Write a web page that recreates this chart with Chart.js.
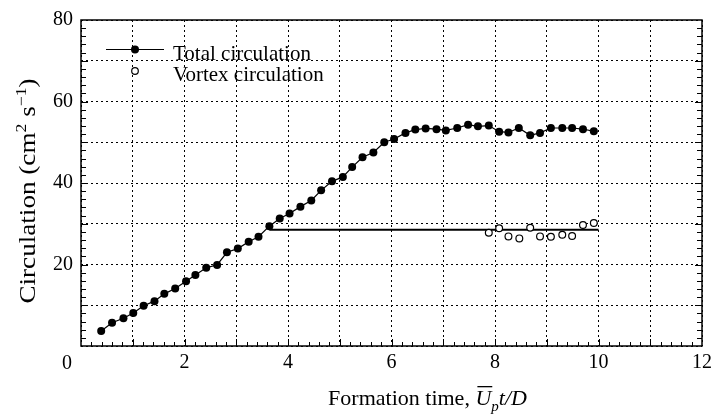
<!DOCTYPE html>
<html lang="en">
<head>
    <meta charset="UTF-8">
    <title>Circulation vs formation time</title>
    <script src="https://cdn.jsdelivr.net/npm/chart.js"></script>
    <style>
        body {
            margin: 0;
            background: #fff;
        }
        .container {
            position: relative;
            width: 717px;
            height: 420px;
        }
    </style>
</head>
<body>

<div class="container">
    <canvas id="circChart"></canvas>
</div>

<script>
    // Total circulation of the jet (cm^2/s) against formation time
    const totalTime = [0.39, 0.60, 0.82, 1.01, 1.21, 1.42, 1.61, 1.82, 2.03, 2.21,
        2.42, 2.63, 2.82, 3.03, 3.24, 3.43, 3.64, 3.84, 4.03, 4.24,
        4.45, 4.64, 4.85, 5.06, 5.24, 5.44, 5.65, 5.86, 6.05, 6.27,
        6.46, 6.66, 6.87, 7.05, 7.27, 7.48, 7.67, 7.88, 8.08, 8.26,
        8.46, 8.68, 8.87, 9.08, 9.30, 9.49, 9.70, 9.91];
    const totalCirc = [3.7, 5.7, 6.8, 8.1, 9.9, 11.0, 12.8, 14.1, 15.9, 17.4,
        19.2, 19.9, 23.0, 23.9, 25.6, 26.8, 29.4, 31.3, 32.5, 34.2,
        35.7, 38.2, 40.4, 41.5, 43.9, 46.3, 47.5, 50.0, 50.8, 52.3,
        53.1, 53.4, 53.2, 52.9, 53.5, 54.3, 53.9, 54.1, 52.6, 52.4,
        53.5, 51.7, 52.3, 53.5, 53.5, 53.5, 53.2, 52.7];

    // Circulation of the pinched-off vortex ring
    const vortexTime = [7.88, 8.08, 8.26, 8.47, 8.68, 8.87, 9.08, 9.30, 9.49, 9.70, 9.91];
    const vortexCirc = [27.8, 28.9, 26.9, 26.4, 29.0, 26.9, 26.8, 27.3, 27.0, 29.7, 30.2];

    // Level of the vortex circulation carried back to the pinch-off time
    const levelTime = [3.64, 10.0];
    const levelCirc = [28.5, 28.5];

    const xLabelValues = [2, 4, 6, 8, 10, 12];
    const yLabelValues = [20, 40, 60, 80];

    const SERIF = "'Liberation Serif', 'Times New Roman', serif";

    function toPoints(xs, ys) {
        return xs.map((x, i) => ({ x: x, y: ys[i] }));
    }

    // frame, inward ticks, axis titles and legend
    const decorations = {
        id: 'decorations',
        afterDraw(chart) {
            const ctx = chart.ctx;
            const a = chart.chartArea;
            const xs = chart.scales.x;
            const ys = chart.scales.y;
            ctx.save();

            ctx.strokeStyle = '#000';
            ctx.lineWidth = 1.5;
            ctx.strokeRect(a.left, a.top, a.right - a.left, a.bottom - a.top);

            ctx.lineWidth = 1;
            ctx.beginPath();
            for (let i = 1; i < 60; i++) {
                const px = Math.round(xs.getPixelForValue(i * 0.2)) + 0.5;
                const len = i % 5 === 0 ? 7 : 4;
                ctx.moveTo(px, a.bottom);
                ctx.lineTo(px, a.bottom - len);
            }
            for (let j = 1; j < 40; j++) {
                const py = Math.round(ys.getPixelForValue(j * 2)) + 0.5;
                const len = j % 5 === 0 ? 7 : 5;
                ctx.moveTo(a.left, py);
                ctx.lineTo(a.left + len, py);
                ctx.moveTo(a.right, py);
                ctx.lineTo(a.right - len, py);
            }
            ctx.stroke();

            // the zero of the x axis sits left of the corner
            ctx.fillStyle = '#000';
            ctx.font = '20px ' + SERIF;
            ctx.textAlign = 'center';
            ctx.textBaseline = 'alphabetic';
            ctx.fillText('0', xs.getPixelForValue(0) - 14, a.bottom + 23);

            // x title: Formation time, U̅p t/D
            const xParts = [
                { t: 'Formation time, ', f: '22px ' + SERIF, dy: 0 },
                { t: 'U', f: 'italic 22px ' + SERIF, dy: 0, bar: true },
                { t: 'p', f: 'italic 15px ' + SERIF, dy: 6 },
                { t: 't/D', f: 'italic 22px ' + SERIF, dy: 0 }
            ];
            let total = 0;
            xParts.forEach(p => { ctx.font = p.f; p.w = ctx.measureText(p.t).width; total += p.w; });
            let cx = (a.left + a.right) / 2 + 36 - total / 2;
            const base = 405;
            ctx.textAlign = 'left';
            xParts.forEach(p => {
                ctx.font = p.f;
                ctx.fillText(p.t, cx, base + p.dy);
                if (p.bar) {
                    ctx.fillRect(cx + 2, base - 19, p.w - 1, 1.3);
                }
                cx += p.w;
            });

            // y title: Circulation (cm² s⁻¹), glyphs drawn a little wide
            const yParts = [
                { t: 'Circulation (cm', f: '23px ' + SERIF, dy: 0 },
                { t: '2', f: '15px ' + SERIF, dy: -9 },
                { t: ' s', f: '23px ' + SERIF, dy: 0 },
                { t: '\u22121', f: '15px ' + SERIF, dy: -9 },
                { t: ')', f: '23px ' + SERIF, dy: 0 }
            ];
            total = 0;
            yParts.forEach(p => { ctx.font = p.f; p.w = ctx.measureText(p.t).width; total += p.w; });
            ctx.translate(35, (a.top + a.bottom) / 2 + 8);
            ctx.rotate(-Math.PI / 2);
            ctx.scale(1.18, 1);
            let tx = -total / 2;
            yParts.forEach(p => {
                ctx.font = p.f;
                ctx.fillText(p.t, tx, p.dy);
                tx += p.w;
            });
            ctx.setTransform(1, 0, 0, 1, 0, 0);

            // legend in the upper left of the plot
            const ds = chart.data.datasets;
            const lx = a.left + 25;
            ctx.font = '21px ' + SERIF;
            ctx.lineWidth = 1.2;
            ctx.beginPath();
            ctx.moveTo(lx, a.top + 29.5);
            ctx.lineTo(lx + 58, a.top + 29.5);
            ctx.stroke();
            ctx.beginPath();
            ctx.arc(lx + 29, a.top + 29.5, 4, 0, Math.PI * 2);
            ctx.fill();
            ctx.fillText(ds[0].label, lx + 67, a.top + 40);

            ctx.beginPath();
            ctx.arc(lx + 29, a.top + 51, 3.3, 0, Math.PI * 2);
            ctx.fillStyle = '#fff';
            ctx.fill();
            ctx.stroke();
            ctx.fillStyle = '#000';
            ctx.fillText(ds[1].label, lx + 67, a.top + 61);

            ctx.restore();
        }
    };

    const ctx = document.getElementById('circChart').getContext('2d');
    new Chart(ctx, {
        type: 'scatter',
        data: {
            datasets: [{
                label: 'Total circulation',
                data: toPoints(totalTime, totalCirc),
                showLine: true,
                borderColor: '#000',
                borderWidth: 1.2,
                backgroundColor: '#000',
                pointRadius: 4,
                pointBorderWidth: 0
            }, {
                label: 'Vortex circulation',
                data: toPoints(vortexTime, vortexCirc),
                showLine: false,
                borderColor: '#000',
                backgroundColor: '#fff',
                pointRadius: 3.4,
                pointBorderWidth: 1.2
            }, {
                label: 'level',
                data: toPoints(levelTime, levelCirc),
                showLine: true,
                borderColor: '#000',
                borderWidth: 2,
                pointRadius: 0
            }]
        },
        options: {
            responsive: true,
            maintainAspectRatio: false,
            animation: false,
            layout: { padding: { left: 0, right: 10, top: 14, bottom: 0 } },
            plugins: {
                legend: { display: false },
                tooltip: { enabled: false }
            },
            scales: {
                x: {
                    type: 'linear',
                    min: 0,
                    max: 12,
                    afterFit: s => { s.height = 74; },
                    ticks: {
                        stepSize: 1,
                        autoSkip: false,
                        maxRotation: 0,
                        padding: 5,
                        color: '#000',
                        font: { family: SERIF, size: 20 },
                        callback: v => xLabelValues.includes(v) ? String(v) : ''
                    },
                    grid: { color: '#000', lineWidth: 1, drawTicks: false },
                    border: { display: false, dash: [2, 3] }
                },
                y: {
                    min: 0,
                    max: 80,
                    afterFit: s => { s.width = 81; },
                    ticks: {
                        stepSize: 10,
                        padding: 8,
                        color: '#000',
                        font: { family: SERIF, size: 20 },
                        callback: v => yLabelValues.includes(v) ? String(v) : ''
                    },
                    grid: { color: '#000', lineWidth: 1, drawTicks: false },
                    border: { display: false, dash: [2, 3] }
                }
            }
        },
        plugins: [decorations]
    });
</script>

</body>
</html>
